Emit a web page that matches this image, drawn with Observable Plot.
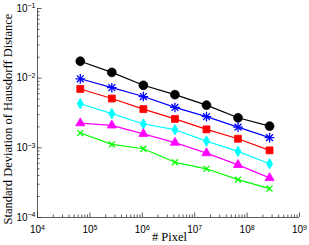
<!DOCTYPE html>
<html><head><meta charset="utf-8">
<script src="https://cdn.jsdelivr.net/npm/d3@7"></script>
<script src="https://cdn.jsdelivr.net/npm/@observablehq/plot@0.6"></script>
<style>body{margin:0;background:#fff}</style>
</head><body><div id="chart"></div>
<script>
const pixels = [65536, 262144, 1048576, 4194304, 16777216, 67108864, 268435456];
const sdBlack   = [0.0175, 0.0121, 0.0079, 0.0058, 0.0041, 0.0027, 0.00205];
const sdBlue    = [0.0098, 0.0073, 0.00545, 0.0038, 0.0028, 0.00198, 0.0014];
const sdRed     = [0.0070, 0.0051, 0.0036, 0.0026, 0.00184, 0.00135, 0.00092];
const sdCyan    = [0.0043, 0.0031, 0.0022, 0.00182, 0.00125, 0.00089, 0.00059];
const sdMagenta = [0.00226, 0.0021, 0.00159, 0.00119, 0.00084, 0.00057, 0.00037];
const sdGreen   = [0.00163, 0.00112, 0.00097, 0.00062, 0.0005, 0.00035, 0.00026];

const xTicks = [1e4, 1e5, 1e6, 1e7, 1e8, 1e9];
const xExponents = ["4", "5", "6", "7", "8", "9"];
const yTicks = [1e-4, 1e-3, 1e-2, 1e-1];
const yExponents = ["\u22124", "\u22123", "\u22122", "\u22121"];
const xLabel = "# Pixel";
const yLabel = "Standard Deviation of Hausdorff Distance";

const xMinor = [];
for (let e = 4; e < 9; e++) for (let m = 2; m <= 9; m++) xMinor.push(m * 10 ** e);
const yMinor = [];
for (let e = -4; e < -1; e++) for (let m = 2; m <= 9; m++) yMinor.push(m * 10 ** e);

const series = [
  {values: sdBlack, color: "#000000", symbol: "circle", r: 4.4, fill: true},
  {values: sdBlue, color: "#0000ff", symbol: "asterisk8", r: 3.2, fill: false},
  {values: sdRed, color: "#ff0000", symbol: "square", r: 3.9, fill: true},
  {values: sdCyan, color: "#00ffff", symbol: "diamond", r: 3.2, fill: true},
  {values: sdMagenta, color: "#ff00ff", symbol: "triangle", r: 3.4, fill: true},
  {values: sdGreen, color: "#00ff00", symbol: "times", r: 2.8, fill: false}
];

const xTickData = xTicks.map((v, i) => ({v, e: xExponents[i]}));
const yTickData = yTicks.map((v, i) => ({v, e: yExponents[i]}));

const W = 309, H = 245, ML = 37, MR = 10, MT = 8, MB = 28;
const FW = W - ML - MR, FH = H - MT - MB;
const axisColor = "#333";

const marks = [
  Plot.ruleX([1e4], {y1: 1e-4, y2: 1e-1, stroke: axisColor, strokeWidth: 0.8}),
  Plot.ruleY([1e-4], {x1: 1e4, x2: 1e9, stroke: axisColor, strokeWidth: 0.8}),
  // inward ticks (MATLAB style)
  Plot.tickY(yTicks, {y: d => d, insetRight: FW - 4.5, stroke: axisColor, strokeWidth: 0.8}),
  Plot.tickY(yMinor, {y: d => d, insetRight: FW - 2.5, stroke: axisColor, strokeWidth: 0.8}),
  Plot.tickX(xTicks, {x: d => d, insetTop: FH - 4.5, stroke: axisColor, strokeWidth: 0.8}),
  Plot.tickX(xMinor, {x: d => d, insetTop: FH - 2.5, stroke: axisColor, strokeWidth: 0.8}),
  Plot.text(yTickData, {x: () => 1e4, y: "v", text: "e", textAnchor: "end", dx: -2, fontSize: 10, fill: "#000"}),
  Plot.text(xTickData, {x: "v", y: () => 1e-4, text: "e", textAnchor: "middle", dx: 0, dy: 12.5, fontSize: 10, fill: "#000"}),
  Plot.text([yLabel], {frameAnchor: "left", textAnchor: "middle", dx: -29.5, dy: 6, rotate: -90, fontSize: 12.5, fill: "#000"}),
  Plot.text([xLabel], {frameAnchor: "bottom", textAnchor: "middle", dx: 1, dy: 23, fontSize: 12.5, fill: "#000"})
];

for (const s of series) {
  const data = pixels.map((p, i) => ({x: p, y: s.values[i]}));
  marks.push(Plot.line(data, {x: "x", y: "y", stroke: s.color, strokeWidth: 1.2}));
  if (s.symbol === "asterisk8") {
    marks.push(Plot.dot(data, {x: "x", y: "y", symbol: "plus", r: s.r, stroke: s.color, strokeWidth: 1.3}));
    marks.push(Plot.dot(data, {x: "x", y: "y", symbol: "times", r: s.r, stroke: s.color, strokeWidth: 1.3}));
  } else if (s.fill) {
    marks.push(Plot.dot(data, {x: "x", y: "y", symbol: s.symbol, r: s.r, fill: s.color, stroke: s.color, strokeWidth: 0.8}));
  } else {
    marks.push(Plot.dot(data, {x: "x", y: "y", symbol: s.symbol, r: s.r, stroke: s.color, strokeWidth: 1.3}));
  }
}

const chart = Plot.plot({
  width: W,
  height: H,
  marginLeft: ML,
  marginRight: MR,
  marginTop: MT,
  marginBottom: MB,
  style: {fontFamily: "'Liberation Sans', Arial, sans-serif", fontSize: "10px", background: "#fff", color: "#000"},
  x: {type: "log", domain: [1e4, 1e9], axis: null},
  y: {type: "log", domain: [1e-4, 1e-1], axis: null},
  marks
});
document.getElementById("chart").appendChild(chart);

// render "10" with superscript exponent; serif axis titles
const exps = new Set([...xExponents, ...yExponents]);
d3.select(chart).selectAll("text").each(function() {
  const t = d3.select(this);
  const s = t.text();
  if (exps.has(s)) {
    t.text("10");
    t.append("tspan").attr("dy", "-0.5em").attr("font-size", 7).text(s);
  } else if (s === xLabel || s === yLabel) {
    t.style("font-family", "'Liberation Serif', 'Times New Roman', serif");
  }
});
</script>
</body></html>
